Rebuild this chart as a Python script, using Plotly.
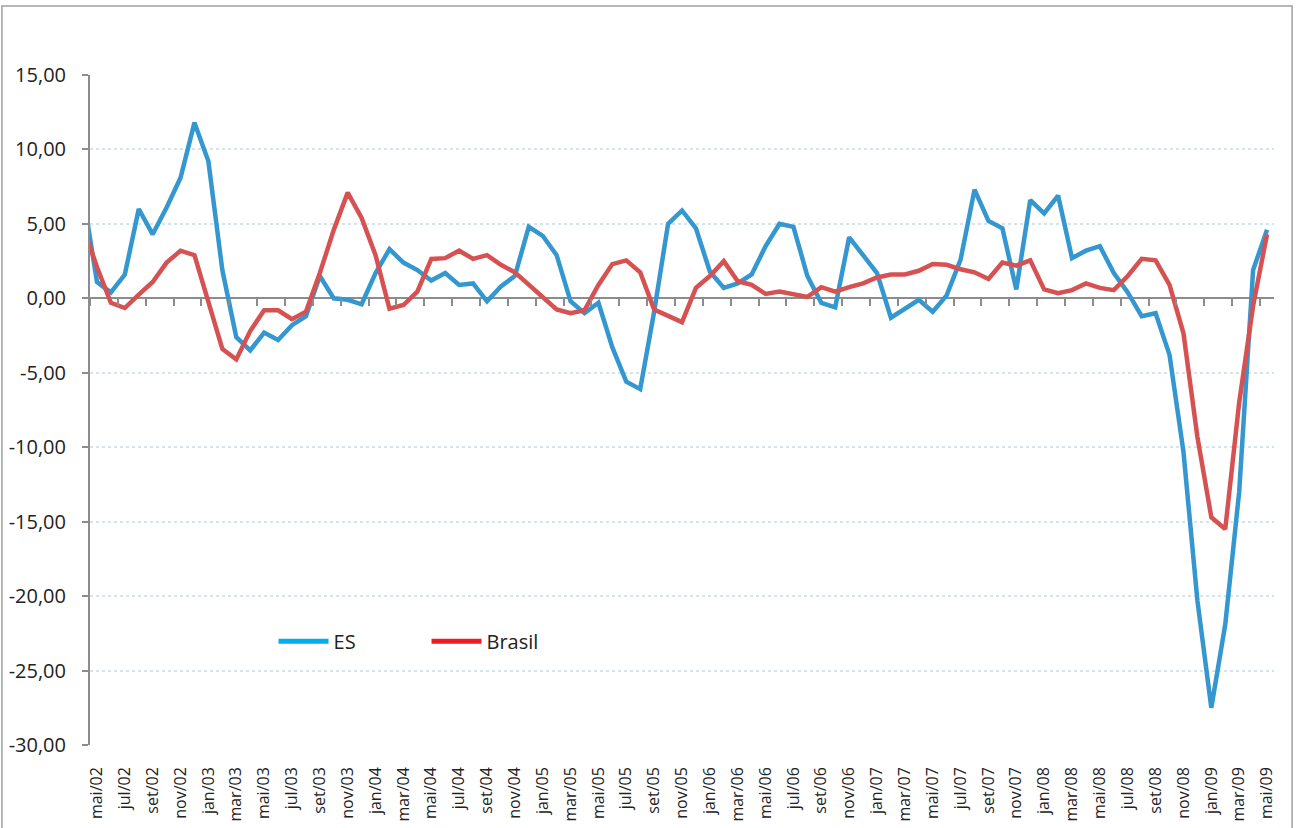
import plotly.graph_objects as go

categories = [
    "abr/02", "mai/02", "jun/02", "jul/02", "ago/02", "set/02", "out/02", "nov/02", "dez/02",
    "jan/03", "fev/03", "mar/03", "abr/03", "mai/03", "jun/03", "jul/03", "ago/03", "set/03", "out/03", "nov/03", "dez/03",
    "jan/04", "fev/04", "mar/04", "abr/04", "mai/04", "jun/04", "jul/04", "ago/04", "set/04", "out/04", "nov/04", "dez/04",
    "jan/05", "fev/05", "mar/05", "abr/05", "mai/05", "jun/05", "jul/05", "ago/05", "set/05", "out/05", "nov/05", "dez/05",
    "jan/06", "fev/06", "mar/06", "abr/06", "mai/06", "jun/06", "jul/06", "ago/06", "set/06", "out/06", "nov/06", "dez/06",
    "jan/07", "fev/07", "mar/07", "abr/07", "mai/07", "jun/07", "jul/07", "ago/07", "set/07", "out/07", "nov/07", "dez/07",
    "jan/08", "fev/08", "mar/08", "abr/08", "mai/08", "jun/08", "jul/08", "ago/08", "set/08", "out/08", "nov/08", "dez/08",
    "jan/09", "fev/09", "mar/09", "abr/09", "mai/09",
]

es = [
    7.0, 1.1, 0.4, 1.6, 6.0, 4.3, 6.1, 8.1, 11.8,
    9.2, 1.9, -2.6, -3.5, -2.3, -2.8, -1.8, -1.2, 1.5, 0.0, -0.1, -0.4,
    1.7, 3.3, 2.4, 1.9, 1.2, 1.7, 0.9, 1.0, -0.2, 0.8, 1.5, 4.8,
    4.2, 2.9, -0.2, -1.0, -0.3, -3.3, -5.6, -6.1, -0.9, 5.0, 5.9, 4.7,
    1.8, 0.7, 1.0, 1.6, 3.5, 5.0, 4.8, 1.5, -0.3, -0.6, 4.1, 2.9,
    1.7, -1.3, -0.7, -0.1, -0.9, 0.2, 2.6, 7.3, 5.2, 4.7, 0.6, 6.6,
    5.7, 6.9, 2.7, 3.2, 3.5, 1.7, 0.4, -1.2, -1.0, -3.8, -10.3, -20.3,
    -27.5, -21.9, -13.0, 1.9, 4.6,
]

brasil = [
    4.85, 2.1, -0.3, -0.65, 0.25, 1.1, 2.4, 3.2, 2.9,
    -0.3, -3.4, -4.1, -2.2, -0.8, -0.8, -1.4, -0.9, 1.7, 4.6, 7.1, 5.4,
    2.9, -0.7, -0.45, 0.45, 2.65, 2.7, 3.2, 2.65, 2.9, 2.25, 1.75, 0.9,
    0.15, -0.75, -1.0, -0.8, 0.9, 2.3, 2.55, 1.75, -0.75, -1.15, -1.6, 0.7,
    1.5, 2.5, 1.15, 0.9, 0.3, 0.45, 0.3, 0.1, 0.75, 0.45, 0.75, 1.0,
    1.4, 1.6, 1.6, 1.85, 2.3, 2.25, 1.95, 1.75, 1.3, 2.4, 2.2, 2.55,
    0.6, 0.35, 0.55, 1.0, 0.7, 0.55, 1.5, 2.65, 2.55, 0.9, -2.35, -9.3,
    -14.7, -15.5, -7.0, -0.5, 4.3,
]

y_tickvals = [15, 10, 5, 0, -5, -10, -15, -20, -25, -30]
y_ticktext = ["15,00", "10,00", "5,00", "0,00", "-5,00", "-10,00", "-15,00", "-20,00", "-25,00", "-30,00"]

series_names = ["ES", "Brasil"]
line_colors = ["#3497cf", "#d65151"]
legend_colors = ["#00aeef", "#ed1c24"]

FONT = "Open Sans"
GRAY = "#8c8c8c"

x_labels = categories[1::2]
n = len(categories)
boundary_ticks = [i + 0.5 for i in range(0, n - 1, 2)]

fig = go.Figure()
for name, vals, col in zip(series_names, [es, brasil], line_colors):
    fig.add_trace(go.Scatter(
        x=categories, y=vals, mode="lines", name=name,
        line=dict(color=col, width=4.5), showlegend=False,
    ))
for name, col in zip(series_names, legend_colors):
    fig.add_trace(go.Scatter(
        x=[None], y=[None], mode="lines", name=name,
        line=dict(color=col, width=5), showlegend=True,
    ))
# helper trace so the zero-line tick axis is drawn
fig.add_trace(go.Scatter(x=[None], y=[None], xaxis="x2", mode="lines",
                         showlegend=False, hoverinfo="skip"))

fig.update_layout(
    width=1296, height=828,
    margin=dict(l=90, r=22, t=75, b=83),
    paper_bgcolor="white", plot_bgcolor="white",
    font=dict(family=FONT, size=16, color="#222222"),
    xaxis=dict(
        type="category", categoryorder="array", categoryarray=categories,
        range=[0.5, n - 0.5], automargin=False,
        tickmode="array", tickvals=x_labels, ticktext=x_labels,
        tickangle=-90, tickfont=dict(size=16, family=FONT, color="#222222"),
        showgrid=False, showline=False, ticks="", zeroline=False,
        ticklabelstandoff=18,
    ),
    xaxis2=dict(
        type="linear", overlaying="x", anchor="free", position=30 / 45,
        range=[0.5, n - 0.5], tickmode="array", tickvals=boundary_ticks,
        ticks="outside", ticklen=7, tickwidth=2, tickcolor=GRAY,
        showticklabels=False, showgrid=False, showline=False, zeroline=False,
        side="bottom", automargin=False,
    ),
    yaxis=dict(
        range=[-30, 15], tickmode="array", tickvals=y_tickvals, ticktext=y_ticktext,
        tickfont=dict(size=20, family=FONT, color="#222222"), automargin=False,
        showline=True, linecolor=GRAY, linewidth=2,
        ticks="outside", ticklen=6, tickwidth=2, tickcolor=GRAY,
        showgrid=True, gridcolor="#d3e5e9", gridwidth=2, griddash="dot",
        zeroline=True, zerolinecolor=GRAY, zerolinewidth=2,
        ticklabelstandoff=12,
    ),
    legend=dict(
        orientation="h", x=0.155, y=0.155, xanchor="left", yanchor="middle",
        font=dict(size=20, family=FONT, color="#222222"),
        bgcolor="rgba(0,0,0,0)", itemwidth=50, entrywidth=88, entrywidthmode="pixels",
    ),
    shapes=[dict(
        type="rect", xref="paper", yref="paper",
        x0=-0.0744, x1=1.0153, y0=-0.2, y1=1.103,
        line=dict(color="#a0a0a0", width=1.5), fillcolor="rgba(0,0,0,0)", layer="below",
    )],
)

fig.write_html("out.html", config={"displayModeBar": False},
               post_script="document.body.style.margin='0';")
